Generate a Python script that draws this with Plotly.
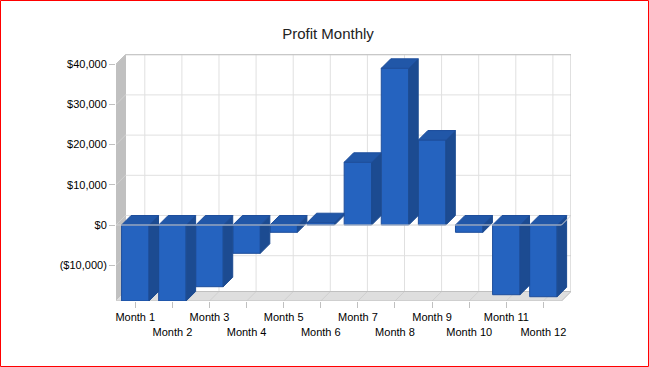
import plotly.graph_objects as go

months = ["Month 1", "Month 2", "Month 3", "Month 4", "Month 5", "Month 6",
          "Month 7", "Month 8", "Month 9", "Month 10", "Month 11", "Month 12"]
profit = [-18900, -18900, -15350, -7040, -1815, 570,
          15600, 38980, 21140, -1815, -17340, -17840]
y_ticks = [-10000, 0, 10000, 20000, 30000, 40000]
y_labels = ["($10,000)", "$0", "$10,000", "$20,000", "$30,000", "$40,000"]

W, H = 649, 367
L, R, T, B = 116, 571, 54, 301      # plot box in pixels
PX_X = 37.1                         # pixels per category
PX_Y = 40.2 / 10000                 # pixels per dollar
DX = 9.5 / PX_X                     # depth offset, x units
DY = 9.5 / PX_Y                     # depth offset, y units
x0 = -0.52
x1 = x0 + (R - L) / PX_X
y1 = 42537
y0 = y1 - (B - T) / PX_Y
x_front_end = x1 - DX
BW = 0.74

FRONT, SIDE, TOP = "#2563BF", "#1C4B91", "#2157A8"
EDGE = "#1E4E9C"
GRID, WALL, FLOOR, FRAME = "#E0E0E0", "#C0C0C0", "#DEDEDE", "#C0C0C0"

shapes = []


def poly(points, fill, line=None, layer="below"):
    path = "M " + " L ".join(f"{a},{b}" for a, b in points) + " Z"
    shapes.append(dict(type="path", path=path, xref="x", yref="y", fillcolor=fill,
                       line=dict(color=line or fill, width=1), layer=layer))


def seg(a, b, c, d, color, layer="below"):
    shapes.append(dict(type="line", x0=a, y0=b, x1=c, y1=d, xref="x", yref="y",
                       line=dict(color=color, width=1), layer=layer))


# left wall and floor
poly([(x0, y0), (x0 + DX, y0 + DY), (x0 + DX, 40000 + DY), (x0, 40000)], WALL)
poly([(x0, y0), (x0 + DX, y0 + DY), (x1, y0 + DY), (x_front_end, y0)], FLOOR)

# back-wall grid, and its traces on wall and floor
for v in y_ticks:
    seg(x0 + DX, v + DY, x1, v + DY, GRID)
    seg(x0, v, x0 + DX, v + DY, "#D0D0D0")
for i in range(len(months)):
    seg(i + DX, y0 + DY, i + DX, 40000 + DY, GRID)
    seg(i, y0, i + DX, y0 + DY, "#CFCFCF")

# frame
seg(x0 + DX, 40000 + DY, x1, 40000 + DY, FRAME)
seg(x1, 40000 + DY, x1, y0 + DY, FRAME)
seg(x1, y0 + DY, x_front_end, y0, FRAME)
seg(x0 + DX, y0 + DY, x1, y0 + DY, FRAME)
seg(x0, y0, x_front_end, y0, FRAME)
seg(x0, 40000, x0 + DX, 40000 + DY, FRAME)

# zero line sits over the bars
seg(x0, 0, x_front_end, 0, "#D4D4D4", layer="above")
seg(x_front_end, 0, x1, DY, "#D4D4D4", layer="above")

# outer red frame
shapes.append(dict(type="rect", xref="paper", yref="paper",
                   x0=(0.5 - L) / (R - L), x1=(W - 0.5 - L) / (R - L),
                   y0=(B - H + 0.5) / (B - T), y1=(B - 0.5) / (B - T),
                   line=dict(color="#FF0000", width=1), layer="above"))

side_x, side_y, top_x, top_y = [], [], [], []
for i, v in enumerate(profit):
    a, b = i - BW / 2, i + BW / 2
    hi, lo = max(v, 0), min(v, 0)
    side_x += [b, b + DX, b + DX, b, b, None]
    side_y += [lo, lo + DY, hi + DY, hi, lo, None]
    top_x += [a, a + DX, b + DX, b, a, None]
    top_y += [hi, hi + DY, hi + DY, hi, hi, None]

fig = go.Figure()
fig.add_bar(x=list(range(len(months))), y=profit, width=BW,
            marker=dict(color=FRONT, line=dict(color=EDGE, width=1)),
            hoverinfo="skip", showlegend=False)
fig.add_scatter(x=side_x, y=side_y, mode="lines", fill="toself", fillcolor=SIDE,
                line=dict(color=SIDE, width=1), hoverinfo="skip", showlegend=False)
fig.add_scatter(x=top_x, y=top_y, mode="lines", fill="toself", fillcolor=TOP,
                line=dict(color=EDGE, width=1), hoverinfo="skip", showlegend=False)

x_text = [m if i % 2 == 0 else "<br>" + m for i, m in enumerate(months)]
fig.update_layout(
    width=W, height=H, autosize=False,
    margin=dict(l=L, r=W - R, t=T, b=H - B, pad=0),
    paper_bgcolor="white", plot_bgcolor="white",
    font=dict(family="Liberation Sans", size=11, color="black"),
    title=dict(text="Profit Monthly", x=328 / W, y=1 - 34 / H, xanchor="center",
               yanchor="middle", font=dict(size=15, color="#222222")),
    shapes=shapes, showlegend=False,
    xaxis=dict(range=[x0, x1], tickmode="array", tickvals=list(range(len(months))),
               ticktext=x_text, ticks="outside", ticklen=6, tickcolor=FRAME, tickangle=0,
               showgrid=False, zeroline=False, showline=False),
    yaxis=dict(range=[y0, y1], tickmode="array", tickvals=y_ticks, ticktext=y_labels,
               ticks="outside", ticklen=6, tickcolor=FRAME,
               showgrid=False, zeroline=False, showline=False),
)
fig.write_html("out.html", post_script="document.body.style.margin='0';",
               config={"displayModeBar": False})
